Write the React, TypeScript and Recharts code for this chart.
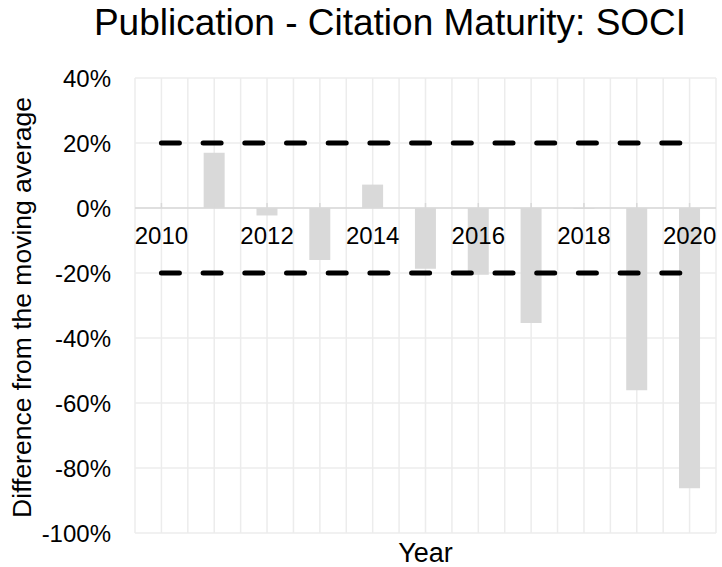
import React from 'react';
import {
  ComposedChart, Bar, Line, XAxis, YAxis, CartesianGrid, ReferenceLine, LabelList,
} from 'recharts';

const years = ['2010', '2011', '2012', '2013', '2014', '2015', '2016', '2017', '2018', '2019', '2020'];
const differences = [0, 0.17, -0.023, -0.16, 0.072, -0.187, -0.205, -0.354, -0.003, -0.561, -0.862];
const upperThreshold = [0.2, 0.2, 0.2, 0.2, 0.2, 0.2, 0.2, 0.2, 0.2, 0.2, 0.2];
const lowerThreshold = [-0.2, -0.2, -0.2, -0.2, -0.2, -0.2, -0.2, -0.2, -0.2, -0.2, -0.2];
const axisZero = [0, 0, 0, 0, 0, 0, 0, 0, 0, 0, 0];
const xTickLabels = ['2010', '', '2012', '', '2014', '', '2016', '', '2018', '', '2020'];
const yTicks = [-1, -0.8, -0.6, -0.4, -0.2, 0, 0.2, 0.4];

const data = years.map((y, i) => ({
  year: y,
  diff: differences[i],
  upper: upperThreshold[i],
  lower: lowerThreshold[i],
  zero: axisZero[i],
  tickLabel: xTickLabels[i],
}));

const FONT = '"Liberation Sans", Arial, sans-serif';

const gridX = ({ offset }: any) => {
  const out: number[] = [];
  for (let k = 0; k <= 22; k++) out.push(offset.left + (offset.width * k) / 22);
  return out;
};

export default function App() {
  return (
    <div style={{ position: 'absolute', left: 0, top: 0, width: 722, height: 567, background: '#fff', fontFamily: FONT }}>
      <div
        style={{
          position: 'absolute', left: 29, top: 1, width: 722, textAlign: 'center',
          fontSize: 37, lineHeight: '44px', color: '#000', fontFamily: FONT,
        }}
      >
        Publication - Citation Maturity: SOCI
      </div>
      <ComposedChart
        width={722}
        height={567}
        data={data}
        margin={{ top: 78, right: 6, bottom: 0, left: 0 }}
        barCategoryGap="30%"
      >
        <CartesianGrid stroke="#ececec" strokeWidth={1.5} verticalCoordinatesGenerator={gridX} />
        <XAxis
          dataKey="year"
          tick={false}
          axisLine={false}
          tickLine={false}
          height={34}
          label={(p: any) => {
            const vb = p.viewBox;
            return (
              <text x={vb.x + vb.width / 2} y={vb.y + 29} textAnchor="middle" fontSize={27} fill="#000" fontFamily={FONT}>
                Year
              </text>
            );
          }}
        />
        <YAxis
          type="number"
          domain={[-1, 0.4]}
          ticks={yTicks}
          interval={0}
          width={135}
          axisLine={false}
          tickLine={false}
          tickMargin={18}
          tick={{ fontSize: 24, fill: '#000', fontFamily: FONT }}
          tickFormatter={(v: number) => `${Math.round(v * 100)}%`}
          label={(p: any) => {
            const vb = p.viewBox;
            const cx = 22;
            const cy = vb.y + vb.height / 2 + 2;
            return (
              <text
                x={cx}
                y={cy}
                transform={`rotate(-90 ${cx} ${cy})`}
                textAnchor="middle"
                dominantBaseline="central"
                fontSize={26.5}
                fill="#000"
                fontFamily={FONT}
              >
                Difference from the moving average
              </text>
            );
          }}
        />
        <ReferenceLine y={0} stroke="#d9d9d9" strokeWidth={1.5} />
        <Bar dataKey="diff" fill="#d9d9d9" isAnimationActive={false} />
        <Line
          dataKey="zero"
          stroke="none"
          isAnimationActive={false}
          dot={(p: any) => (
            <line key={`t${p.index}`} x1={p.cx} x2={p.cx} y1={p.cy - 5} y2={p.cy} stroke="#d9d9d9" strokeWidth={1.5} />
          )}
          activeDot={false}
        >
          <LabelList
            dataKey="tickLabel"
            content={(p: any) =>
              p.value ? (
                <text x={p.x} y={p.y + 36} textAnchor="middle" fontSize={24} fill="#000" fontFamily={FONT}>
                  {p.value}
                </text>
              ) : null
            }
          />
        </Line>
        <Line
          dataKey="upper"
          stroke="#000"
          strokeWidth={5}
          strokeDasharray="18 23.7"
          strokeLinecap="round"
          dot={false}
          activeDot={false}
          isAnimationActive={false}
        />
        <Line
          dataKey="lower"
          stroke="#000"
          strokeWidth={5}
          strokeDasharray="18 23.7"
          strokeLinecap="round"
          dot={false}
          activeDot={false}
          isAnimationActive={false}
        />
      </ComposedChart>
    </div>
  );
}
